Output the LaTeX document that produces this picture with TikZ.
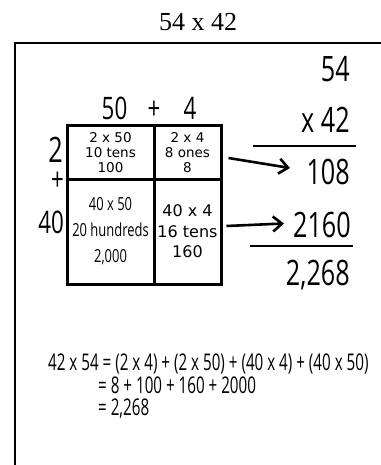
\documentclass[tikz,border=0pt]{standalone}
\usepackage{fontspec}
\setmainfont{Liberation Serif}
\newfontfamily\cond[FakeStretch=0.72]{Open Sans}
\newfontfamily\conde[FakeStretch=0.66]{Open Sans}
\newfontfamily\verd{DejaVu Sans}
\usetikzlibrary{arrows.meta,calc}
\tikzset{
  big/.style={inner sep=0pt, font={\cond\fontsize{35}{35}\selectfont}},
  mid/.style={inner sep=0pt, font={\cond\fontsize{31}{31}\selectfont}},
  cell/.style={draw, line width=3pt, inner sep=0pt, align=center},
  arr/.style={line width=2.6pt, -{Straight Barb[length=9pt,width=15pt,line width=2.6pt]}},
  rule/.style={line width=2.6pt},
  eq/.style={inner sep=0pt, anchor=base west, font={\conde\fontsize{23}{23}\selectfont}}
}
\begin{document}
\begin{tikzpicture}[x=1pt,y=-1pt]
\useasboundingbox (0,0) rectangle (380,465);
% title
\node[inner sep=0pt, anchor=base, font=\fontsize{26}{26}\selectfont] (title) at (198,31) {54 x 42};
% frame
\draw[line width=2.5pt] (381,43) -- (15,43) -- (15,466);
% grid cells
\node[cell, minimum width=87pt, minimum height=53pt, font={\verd\fontsize{13.5}{15}\selectfont}] (c11) at (110.5,152.5) {2 x 50\\10 tens\\100};
\node[cell, minimum width=67pt, minimum height=53pt, font={\verd\fontsize{13.5}{15}\selectfont}] (c12) at (187.5,152.5) {2 x 4\\8 ones\\8};
\node[cell, minimum width=87pt, minimum height=105pt, font={\cond\fontsize{18}{26}\selectfont}] (c21) at (110.5,231.5) {40 x 50\\20 hundreds\\2,000};
\node[cell, minimum width=67pt, minimum height=105pt, font={\verd\fontsize{16}{20.5}\selectfont}] (c22) at (187.5,231.5) {40 x 4\\16 tens\\160};
% top labels
\node[mid, anchor=base] (t50) at (114.5,120) {50};
\node[mid, anchor=base] (tplus) at (154,120) {+};
\node[mid, anchor=base] (t4) at (190,120) {4};
% left labels
\node[big, anchor=base east] (l2) at (63,162) {2};
\node[mid, anchor=base] (lplus) at (57.5,190) {+};
\node[mid, anchor=base east] (l40) at (64,233) {40};
% right column
\node[big, anchor=base east] (n54) at (350,82) {54};
\node[big, anchor=base east] (nx42) at (350,133) {x 42};
\node[big, anchor=base east] (n108) at (350,184) {108};
\node[big, anchor=base east] (n2160) at (351,237) {2160};
\node[big, anchor=base east] (n2268) at (350,285) {2,268};
\draw[rule] (253,146) -- (356,146);
\draw[rule] (250,246) -- (353,246);
% arrows
\draw[arr] ([xshift=6pt,yshift=-5.5pt]c12.east) -- (290,168);
\draw[arr] ([xshift=4pt,yshift=5.5pt]c22.east) -- (284,223.5);
% equation
\node[eq] (e1) at (48,370) {42 x 54 = (2 x 4) + (2 x 50) + (40 x 4) + (40 x 50)};
\node[eq] (e2) at (98,393) {= 8 + 100 + 160 + 2000};
\node[eq] (e3) at (98,415) {= 2,268};
\end{tikzpicture}
\end{document}
